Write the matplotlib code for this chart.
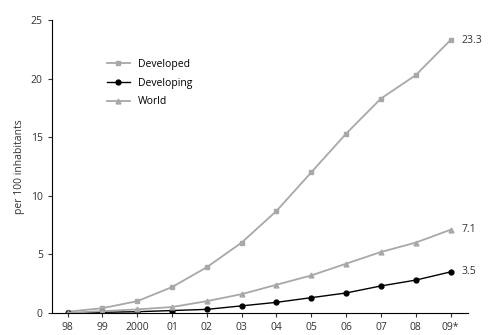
import numpy as np
import matplotlib
matplotlib.use("Agg")
import matplotlib.pyplot as plt

years = ["98", "99", "2000", "01", "02", "03", "04", "05", "06", "07", "08", "09*"]
developed = [0.1, 0.4, 1.0, 2.2, 3.9, 6.0, 8.7, 12.0, 15.3, 18.3, 20.3, 23.3]
developing = [0.0, 0.05, 0.1, 0.2, 0.3, 0.6, 0.9, 1.3, 1.7, 2.3, 2.8, 3.5]
world = [0.0, 0.15, 0.3, 0.5, 1.0, 1.6, 2.4, 3.2, 4.2, 5.2, 6.0, 7.1]
end_labels = ["23.3", "3.5", "7.1"]

plt.rcParams['font.family'] = ['Open Sans', 'DejaVu Sans']

fig = plt.figure(figsize=(4.89, 3.35), dpi=100)
ax = fig.add_axes([0.106, 0.066, 0.851, 0.874])

x = np.arange(len(years))
grey = '#a8a8a8'
ax.plot(x, developed, '-', color=grey, marker='s', ms=3.5, lw=1.3, label='Developed')
ax.plot(x, developing, '-', color='black', marker='o', ms=3.5, lw=1.0, label='Developing')
ax.plot(x, world, '-', color=grey, marker='^', ms=3.5, lw=1.3, label='World')

for series, lab in zip([developed, developing, world], end_labels):
    ax.annotate(lab, (x[-1], series[-1]), xytext=(8, 0), textcoords='offset points',
                va='center', ha='left', fontsize=7.5, color='#333333')

ax.set_xlim(-0.45, 11.5)
ax.set_ylim(0, 25)
ax.set_xticks(x)
ax.set_xticklabels(years)
ax.set_yticks([0, 5, 10, 15, 20, 25])
ax.set_ylabel('per 100 inhabitants', fontsize=7.5, color='#333333')
ax.tick_params(labelsize=7.5, colors='#333333', length=3)
for s in ['top', 'right']:
    ax.spines[s].set_visible(False)

ax.legend(loc='upper left', bbox_to_anchor=(0.11, 0.9), frameon=False, fontsize=7.5,
          handlelength=2.2, labelspacing=0.75)

fig.savefig('out.png', dpi=100)
